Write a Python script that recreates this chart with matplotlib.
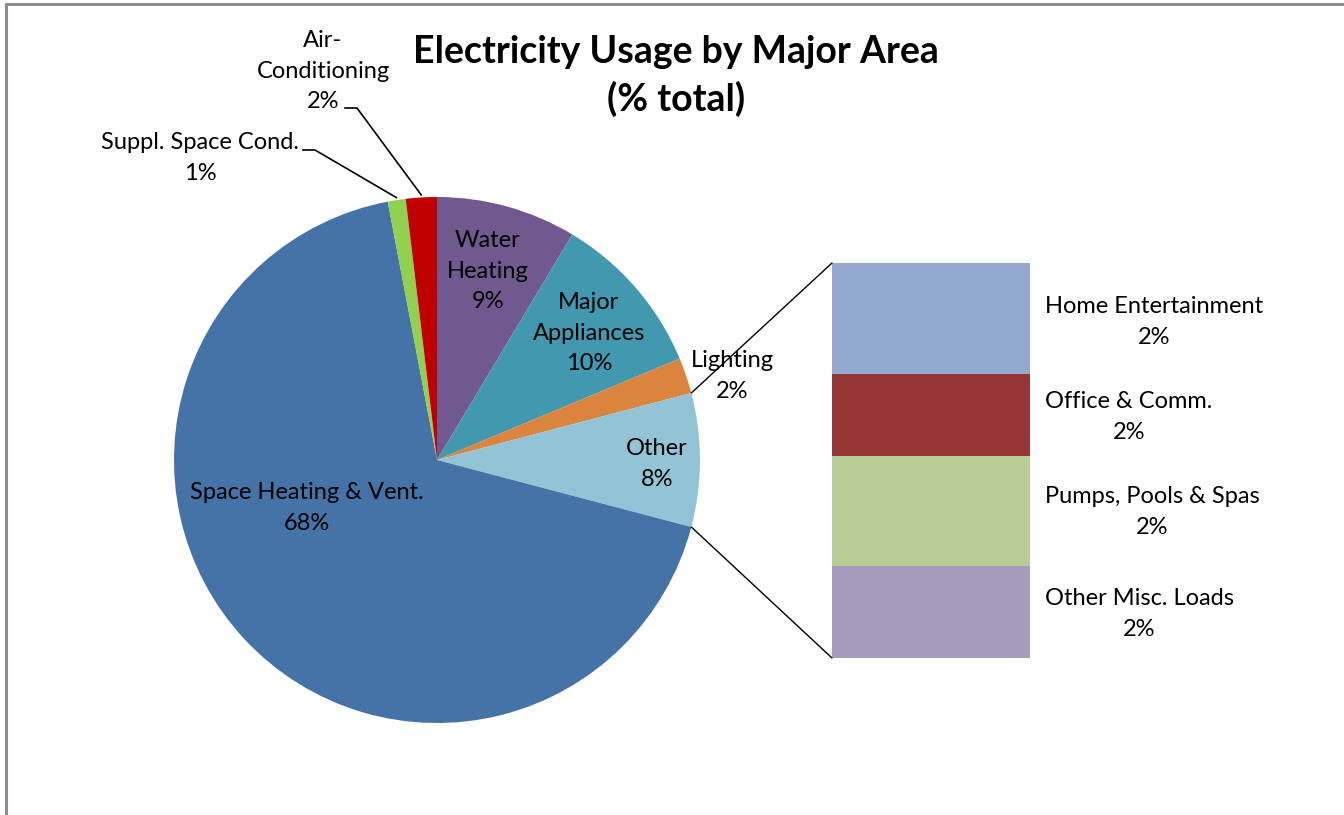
import numpy as np
import matplotlib.pyplot as plt
from matplotlib.patches import ConnectionPatch

plt.rcParams['font.family'] = ['Lato', 'DejaVu Sans']

# pie slices, clockwise from 12 o'clock
pie_labels = ['Water\nHeating', 'Major\nAppliances', 'Lighting', 'Other',
              'Space Heating & Vent.', 'Suppl. Space Cond.', 'Air-\nConditioning']
pie_values = [8.6, 10.1, 2.2, 8.2, 67.9, 1.1, 1.9]
pie_colors = ['#71588F', '#4198AF', '#DB843D', '#93C4D6',
              '#4572A7', '#92D050', '#C00000']

# breakdown of "Other"
bar_labels = ['Home Entertainment', 'Office & Comm.', 'Pumps, Pools & Spas', 'Other Misc. Loads']
bar_values = [2.3, 1.7, 2.3, 1.9]
bar_colors = ['#93A9CF', '#943634', '#B9CD96', '#A99BBD']

W, H = 1344, 815
fig = plt.figure(figsize=(W / 100, H / 100), dpi=100)

# pie
cx, cy, r = 437, 460, 263
pie_ax = fig.add_axes([(cx - r) / W, (H - cy - r) / H, 2 * r / W, 2 * r / H])
wedges, _ = pie_ax.pie(pie_values, colors=pie_colors, startangle=90, counterclock=False,
                       radius=1, wedgeprops=dict(linewidth=0))
pie_ax.set_xlim(-1, 1)
pie_ax.set_ylim(-1, 1)

# stacked bar for "Other"
bx0, bx1, by0, by1 = 832, 1030, 263, 658
bar_ax = fig.add_axes([bx0 / W, (H - by1) / H, (bx1 - bx0) / W, (by1 - by0) / H])
bottoms = np.cumsum([0] + bar_values[:-1])
bar_ax.bar(0, bar_values, bottom=bottoms, width=1, color=bar_colors, linewidth=0)
bar_ax.set_xlim(-0.5, 0.5)
bar_ax.set_ylim(sum(bar_values), 0)
bar_ax.axis('off')

# overlay axes in pixel coordinates for text and border (on top)
bg = fig.add_axes([0, 0, 1, 1], zorder=10)
bg.set_xlim(0, W)
bg.set_ylim(H, 0)
bg.axis('off')
bg.plot([6, 6, W], [H, 4, 4], color='#8C8C8C', lw=2.2, solid_capstyle='butt')

fs = 17
pct = [f'{round(v):.0f}%' for v in pie_values]
label_pos = [(488, 271), (589, 333), (732, 376), (657, 464),
             (307, 508), (200, 158), (323, 71)]
for lab, p, (x, y) in zip(pie_labels, pct, label_pos):
    bg.text(x, y, lab + '\n' + p, ha='center', va='center', fontsize=fs,
            linespacing=1.55, color='black')

# leader lines for the two small slices
cum = np.cumsum([0] + pie_values)
def edge_point(i, rr=1.0):
    mid = 90 - 360 * (cum[i] + cum[i + 1]) / 2 / 100
    a = np.deg2rad(mid)
    return cx + r * rr * np.cos(a), cy - r * rr * np.sin(a)

for i, (x0, y0) in [(5, (303, 150)), (6, (345, 108))]:
    ex, ey = edge_point(i, 1.01)
    bg.plot([x0, x0 + 12, ex], [y0, y0, ey], color='black', lw=1.2)

bar_pct = [f'{round(v):.0f}%' for v in bar_values]
bar_label_y = [322, 417, 512, 614]
for lab, p, y in zip(bar_labels, bar_pct, bar_label_y):
    bg.text(1045, y, lab + '\n' + p, ha='left', va='center', fontsize=fs,
            linespacing=1.55, multialignment='center', color='black')

# connector lines from the "Other" slice to the bar
i_other = 3
a_top = np.deg2rad(90 - 360 * cum[i_other] / 100)
a_bot = np.deg2rad(90 - 360 * cum[i_other + 1] / 100)
for a, yb in [(a_top, 0), (a_bot, sum(bar_values))]:
    con = ConnectionPatch(xyA=(np.cos(a), np.sin(a)), coordsA=pie_ax.transData,
                          xyB=(-0.5, yb), coordsB=bar_ax.transData,
                          color='black', lw=1.0)
    fig.add_artist(con)

# title
bg.text(676, 76, 'Electricity Usage by Major Area\n(% total)', ha='center', va='center',
        fontsize=27, fontweight='bold', linespacing=1.42)

fig.savefig('out.png', dpi=100)
